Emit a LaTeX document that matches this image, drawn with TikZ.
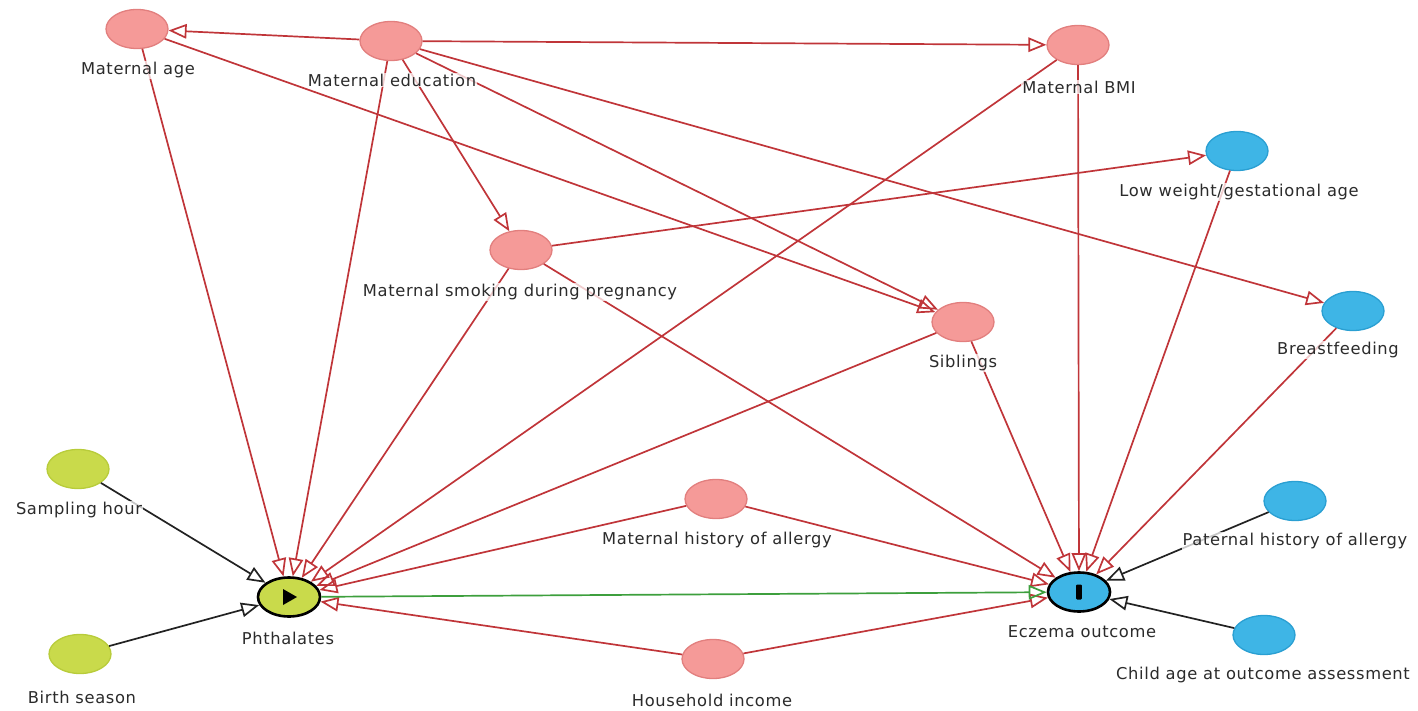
\documentclass[tikz,border=0pt]{standalone}
\usepackage{fontspec}
\setmainfont{DejaVu Sans}[LetterSpace=4]
\usetikzlibrary{shapes.geometric,arrows.meta}
\definecolor{pinkf}{HTML}{F59A98}
\definecolor{pinkd}{HTML}{E27F7E}
\definecolor{limef}{HTML}{C9DA4B}
\definecolor{limed}{HTML}{B8CC3A}
\definecolor{bluef}{HTML}{3EB5E6}
\definecolor{blued}{HTML}{2A9FD2}
\definecolor{redl}{HTML}{C03539}
\definecolor{greenl}{HTML}{3D9F3D}
\definecolor{blackl}{HTML}{222222}
\definecolor{txt}{HTML}{2B2B2B}
\tikzset{
  vnode/.style={ellipse, minimum width=62pt, minimum height=39pt, inner sep=0pt, line width=1.3pt},
  pinkn/.style={vnode, fill=pinkf, draw=pinkd},
  limen/.style={vnode, fill=limef, draw=limed},
  bluen/.style={vnode, fill=bluef, draw=blued},
  keyn/.style={draw=black, line width=2.6pt},
  lbl/.style={fill=white, fill opacity=0.75, text opacity=1, inner sep=1pt, text=txt, font=\fontsize{16.3}{18}\selectfont},
  tipo/.style={-{Triangle[open,length=18pt,width=14.5pt]}},
  redge/.style={tipo, draw=redl, line width=1.7pt},
  bedge/.style={tipo, draw=blackl, line width=1.7pt},
  gedge/.style={tipo, draw=greenl, line width=1.7pt}
}
\begin{document}
\begin{tikzpicture}[x=1pt,y=-1pt]
\useasboundingbox (0,0) rectangle (1418,711);
% nodes
\node[pinkn] (mage) at (137,29) {};
\node[pinkn] (medu) at (391,41) {};
\node[pinkn] (mbmi) at (1078,45) {};
\node[bluen] (lowwt) at (1237,151) {};
\node[pinkn] (smok) at (521,250) {};
\node[pinkn] (sib) at (963,322) {};
\node[bluen] (breast) at (1353,311) {};
\node[limen] (samp) at (78,469) {};
\node[limen] (birth) at (80,654) {};
\node[limen,keyn] (phth) at (289,597) {};
\node[pinkn] (mha) at (716,499) {};
\node[pinkn] (hinc) at (713,659) {};
\node[bluen,keyn] (ecz) at (1079,592) {};
\node[bluen] (pha) at (1295,501) {};
\node[bluen] (child) at (1264,635) {};
% symbols
\fill[black, shift={(phth.center)}] (-6,-8) -- (8,0) -- (-6,8) -- cycle;
\fill[black, rounded corners=1pt, shift={(ecz.center)}] (-2.8,-7.5) rectangle (2.8,7.5);
% edges
\draw[redge] (medu) -- (mage);
\draw[redge] (medu) -- (mbmi);
\draw[redge] (medu) -- (smok);
\draw[redge] (medu) -- (sib);
\draw[redge] (medu) -- (breast);
\draw[redge] (medu) -- (phth);
\draw[redge] (mage) -- (phth);
\draw[redge] (mage) -- (sib);
\draw[redge] (mbmi) -- (phth);
\draw[redge] (mbmi) -- (ecz);
\draw[redge] (smok) -- (lowwt);
\draw[redge] (smok) -- (phth);
\draw[redge] (smok) -- (ecz);
\draw[redge] (sib) -- (phth);
\draw[redge] (sib) -- (ecz);
\draw[redge] (lowwt) -- (ecz);
\draw[redge] (breast) -- (ecz);
\draw[redge] (mha) -- (phth);
\draw[redge] (mha) -- (ecz);
\draw[redge] (hinc) -- (phth);
\draw[redge] (hinc) -- (ecz);
\draw[bedge] (samp) -- (phth);
\draw[bedge] (birth) -- (phth);
\draw[bedge] (pha) -- (ecz);
\draw[bedge] (child) -- (ecz);
\draw[gedge] (phth) -- (ecz);
% labels
\node[lbl] (lmage) at (138,70) {Maternal age};
\node[lbl] (lmedu) at (392,80) {Maternal education};
\node[lbl] (lmbmi) at (1079,87) {Maternal BMI};
\node[lbl] (llowwt) at (1239,192) {Low weight/gestational age};
\node[lbl] (lsmok) at (520,292) {Maternal smoking during pregnancy};
\node[lbl] (lsib) at (963,363) {Siblings};
\node[lbl] (lbreast) at (1338,350) {Breastfeeding};
\node[lbl] (lsamp) at (79,510) {Sampling hour};
\node[lbl] (lbirth) at (82,697) {Birth season};
\node[lbl] (lphth) at (288,638) {Phthalates};
\node[lbl] (lmha) at (717,540) {Maternal history of allergy};
\node[lbl] (lhinc) at (712,700) {Household income};
\node[lbl] (lecz) at (1082,632) {Eczema outcome};
\node[lbl] (lpha) at (1295,541) {Paternal history of allergy};
\node[lbl] (lchild) at (1263,675) {Child age at outcome assessment};
\end{tikzpicture}
\end{document}
